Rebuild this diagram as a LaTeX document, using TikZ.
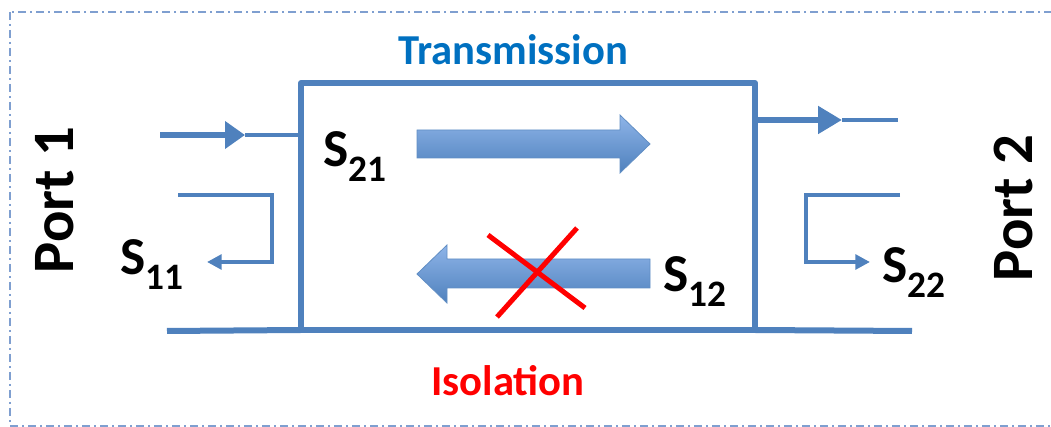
\documentclass[tikz,border=0pt]{standalone}
\usepackage{fontspec}
\setmainfont{Carlito}
\usetikzlibrary{arrows.meta}
\definecolor{lineblue}{HTML}{4F81BD}
\definecolor{frameblue}{HTML}{7F9FD0}
\definecolor{textblue}{HTML}{0070C0}
\definecolor{arrowtop}{HTML}{8EB4E8}
\newcommand{\sparam}[1]{S\raisebox{-11pt}{\fontsize{28}{28}\selectfont #1}}
\begin{document}
\begin{tikzpicture}[x=0.75pt,y=-0.75pt,
  wire/.style={lineblue,line width=4.5pt,line join=round},
  thinwire/.style={lineblue,line width=3pt},
  feedwire/.style={lineblue,line width=5.2pt},
  blockarrow/.style={top color=arrowtop,bottom color=lineblue,draw=lineblue!90,line width=0.6pt},
  cross/.style={red,line width=3.75pt},
  sname/.style={inner sep=0pt,anchor=base west,font=\fontsize{40}{40}\selectfont\bfseries},
  portname/.style={inner sep=0pt,anchor=base,rotate=90,font=\fontsize{44}{44}\selectfont\bfseries},
  title/.style={inner sep=0pt,anchor=base,font=\fontsize{32}{32}\selectfont\bfseries}]
\useasboundingbox (0,0) rectangle (1051,427);
% Frame
\draw[frameblue,line width=1.1pt,dash pattern=on 6pt off 3pt on 1.5pt off 3pt] (10,12) rectangle (1080,426);
% Device
\coordinate (dtl) at (301,83);
\coordinate (dbr) at (755,330);
\draw[wire] (dtl) rectangle (dbr);
% Port 1 side
\coordinate (in1) at (160,135);
\coordinate (in1tip) at (245,135);
\coordinate (in1end) at (301,135);
\draw[feedwire,-{Triangle[length=15pt,width=20pt]}] (in1) -- (in1tip);
\draw[thinwire] (in1tip) -- (in1end);
\coordinate (r1a) at (178,195);
\coordinate (r1b) at (272,195);
\coordinate (r1c) at (272,262);
\coordinate (r1d) at (207,262);
\draw[thinwire,-{Triangle[length=11pt,width=11pt]}] (r1a) -- (r1b) -- (r1c) -- (r1d);
\coordinate (g1) at (167,331);
\draw[wire] (g1) -- (dtl |- dbr);
% Port 2 side
\coordinate (out2) at (755,120);
\coordinate (out2tip) at (842,120);
\coordinate (out2end) at (898,120);
\draw[feedwire,-{Triangle[length=18pt,width=20pt]}] (out2) -- (out2tip);
\draw[thinwire] (out2tip) -- (out2end);
\coordinate (r2a) at (900,195);
\coordinate (r2b) at (806,195);
\coordinate (r2c) at (806,262);
\coordinate (r2d) at (870,262);
\draw[thinwire,-{Triangle[length=11pt,width=11pt]}] (r2a) -- (r2b) -- (r2c) -- (r2d);
\coordinate (g2) at (912,331);
\draw[wire] (dbr) -- (g2);
% Forward and reverse paths
\shade[blockarrow] (417,130) -- (620,130) -- (620,115) -- (650,144) -- (620,173) -- (620,158) -- (417,158) -- cycle;
\shade[blockarrow] (650,259) -- (447,259) -- (447,245) -- (417,274) -- (447,303) -- (447,288) -- (650,288) -- cycle;
\draw[cross] (488,235) -- (585,308);
\draw[cross] (577,228) -- (497,317);
% Labels
\node[sname] (s21) at (323,167) {\sparam{21}};
\node[sname] (s11) at (120,275) {\sparam{11}};
\node[sname] (s12) at (663,292) {\sparam{12}};
\node[sname] (s22) at (882,283) {\sparam{22}};
\node[portname] (p1) at (73,200) {Port 1};
\node[portname] (p2) at (1032,208) {Port 2};
\node[title,textblue] (trans) at (513,65) {Transmission};
\node[title,red] (iso) at (508,396) {Isolation};
\end{tikzpicture}
\end{document}
